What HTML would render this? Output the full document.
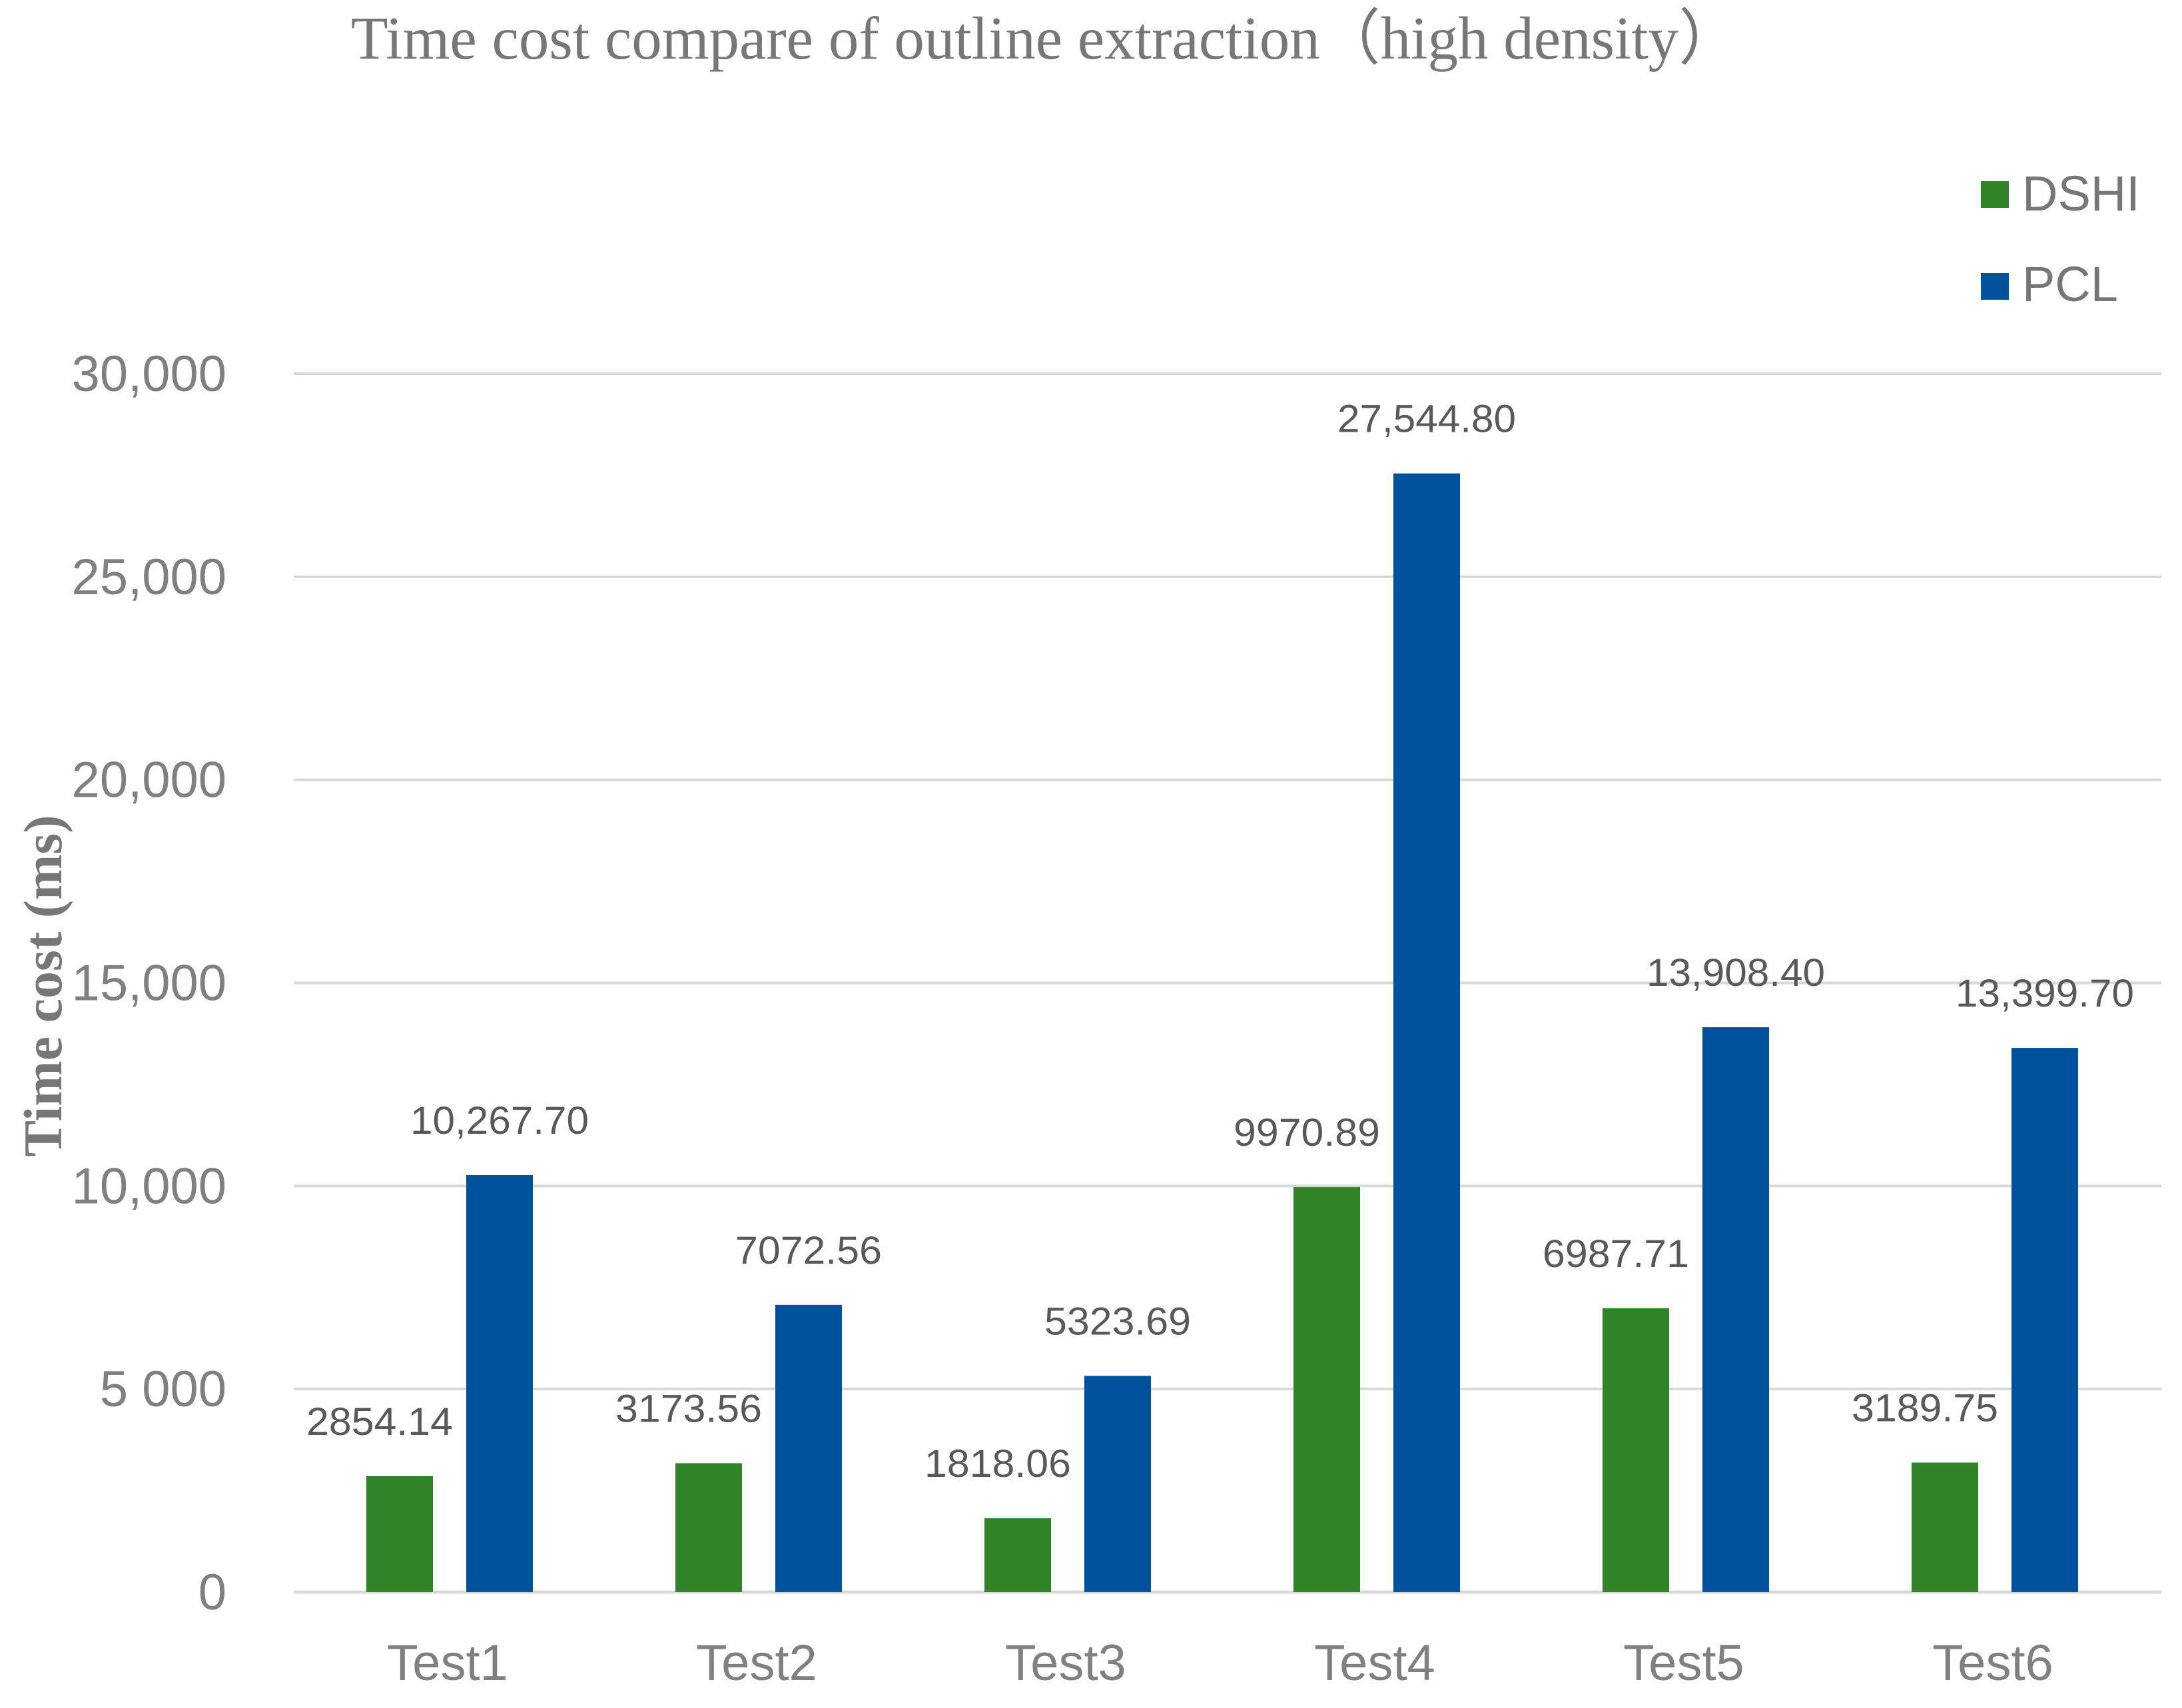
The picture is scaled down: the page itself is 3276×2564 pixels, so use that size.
<!DOCTYPE html>
<html><head><meta charset="utf-8"><style>
html,body{margin:0;padding:0;background:#fff;}
svg{display:block;}
</style></head><body>
<svg id="chart" width="3276" height="2564" viewBox="0 0 3276 2564" xmlns="http://www.w3.org/2000/svg">
<rect width="3276" height="2564" fill="#fff"/>
<text x="1569" y="88" text-anchor="middle" font-family="Liberation Serif, serif" font-size="91" fill="#777">Time cost compare of outline extraction（high density）</text>
<text transform="translate(92,1480) rotate(-90)" text-anchor="middle" font-family="Liberation Serif, serif" font-weight="bold" font-size="82" fill="#777">Time cost (ms)</text>
<g id="grid"></g><g id="bars"></g><g id="labels"></g>
<g>
<rect x="2974" y="272" width="42" height="40" fill="#31832a"/>
<text x="3036" y="316" font-family="Liberation Sans, sans-serif" font-size="74" fill="#777">DSHI</text>
<rect x="2974" y="410" width="42" height="40" fill="#00529c"/>
<text x="3036" y="452" font-family="Liberation Sans, sans-serif" font-size="74" fill="#777">PCL</text>
</g>
</svg>
<script>
const categories = ["Test1","Test2","Test3","Test4","Test5","Test6"];
const dshiValues = [2854.14,3173.56,1818.06,9970.89,6987.71,3189.75];
const pclValues = [10267.70,7072.56,5323.69,27544.80,13908.40,13399.70];
const dshiLabels = ["2854.14","3173.56","1818.06","9970.89","6987.71","3189.75"];
const pclLabels = ["10,267.70","7072.56","5323.69","27,544.80","13,908.40","13,399.70"];
const yTicks = [0,5000,10000,15000,20000,25000,30000];
const yTickLabels = ["0","5 000","10,000","15,000","20,000","25,000","30,000"];

const NS="http://www.w3.org/2000/svg";
const x0=441, x1=3245, yZero=2390, yTop=561, yMax=30000;
const step=464, firstCenter=672;
function yScale(v){return yZero-(v/yMax)*(yZero-yTop);}
function xCenter(i){return firstCenter+step*i;}
function mk(tag,attrs,parent){const e=document.createElementNS(NS,tag);for(const k in attrs)e.setAttribute(k,attrs[k]);parent.appendChild(e);return e;}
const grid=document.getElementById('grid'),bars=document.getElementById('bars'),labels=document.getElementById('labels');
yTicks.forEach((t,i)=>{
  const l=mk('line',{x1:x0,x2:x1,y1:yScale(t),y2:yScale(t),stroke:'#d9d9d9','stroke-width':t===0?5:4},grid);
  
  
  const tx=mk('text',{x:340,y:yScale(t)+26,'text-anchor':'end','font-family':'Liberation Sans, sans-serif','font-size':76,fill:'#808080'},grid);
  tx.textContent=yTickLabels[i];
  
  
});
const bw=100;
categories.forEach((c,i)=>{
  const cx=xCenter(i);
  const gy=yScale(dshiValues[i]), py=yScale(pclValues[i]);
  const g=mk('rect',{x:cx-122,y:gy,width:bw,height:yZero-gy,fill:'#31832a'},bars);
  
  
  const p=mk('rect',{x:cx+28,y:py,width:bw,height:yZero-py,fill:'#00529c'},bars);
  
  
  const gl=mk('text',{x:cx-102,y:gy-62,'text-anchor':'middle','font-family':'Liberation Sans, sans-serif','font-size':58,fill:'#595959',textLength:220,lengthAdjust:'spacingAndGlyphs'},labels);
  gl.textContent=dshiLabels[i];
  
  
  const pl=mk('text',{x:cx+78,y:py-62,'text-anchor':'middle','font-family':'Liberation Sans, sans-serif','font-size':58,fill:'#595959'},labels);
  if(pclLabels[i].length>8){pl.setAttribute('textLength',268);pl.setAttribute('lengthAdjust','spacingAndGlyphs');}
  else{pl.setAttribute('textLength',220);pl.setAttribute('lengthAdjust','spacingAndGlyphs');}
  pl.textContent=pclLabels[i];
  
  
  const cl=mk('text',{x:cx,y:2522,'text-anchor':'middle','font-family':'Liberation Sans, sans-serif','font-size':76,fill:'#808080'},labels);
  cl.textContent=c;
  
  
});
</script>
</body></html>
